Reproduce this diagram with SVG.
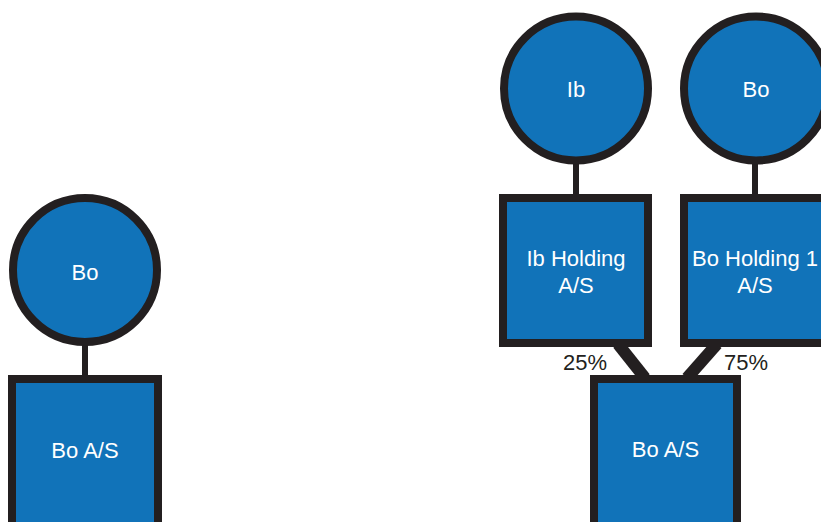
<svg xmlns="http://www.w3.org/2000/svg" width="821" height="522" viewBox="0 0 821 522">
  <style>
    .shape { fill: #1173b9; stroke: #231f20; stroke-width: 8; }
    .link { stroke: #231f20; fill: none; }
    .thin { stroke-width: 6; }
    .thick { stroke-width: 12; }
    .label { font-family: "Liberation Sans", Arial, sans-serif; font-size: 22px; fill: #ffffff; text-anchor: middle; }
    .pct { font-family: "Liberation Sans", Arial, sans-serif; font-size: 22px; fill: #231f20; text-anchor: middle; }
  </style>

  <!-- connectors -->
  <g id="connectors">
    <line class="link thin" x1="85" y1="340" x2="85" y2="380"/>
    <line class="link thin" x1="576" y1="158" x2="576" y2="200"/>
    <line class="link thin" x1="755" y1="158" x2="755" y2="200"/>
    <line class="link thick" x1="618" y1="344" x2="645" y2="378"/>
    <line class="link thick" x1="717" y1="344" x2="687" y2="378"/>
    <text class="pct" x="585" y="370">25%</text>
    <text class="pct" x="746" y="370">75%</text>
  </g>

  <!-- left structure -->
  <g id="owner-bo-left">
    <circle class="shape" cx="85" cy="270" r="72"/>
    <text class="label" x="85" y="280">Bo</text>
  </g>
  <g id="company-bo-as-left">
    <rect class="shape" x="12" y="379" width="146" height="200"/>
    <text class="label" x="85" y="458">Bo A/S</text>
  </g>

  <!-- right structure -->
  <g id="owner-ib">
    <circle class="shape" cx="576" cy="88.5" r="72"/>
    <text class="label" x="576" y="97">Ib</text>
  </g>
  <g id="owner-bo-right">
    <circle class="shape" cx="756" cy="88.5" r="72"/>
    <text class="label" x="756" y="97">Bo</text>
  </g>
  <g id="ib-holding">
    <rect class="shape" x="503" y="198" width="145" height="145"/>
    <text class="label" x="576" y="266">Ib Holding</text>
    <text class="label" x="576" y="293">A/S</text>
  </g>
  <g id="bo-holding-1">
    <rect class="shape" x="684" y="198" width="145" height="145"/>
    <text class="label" x="755" y="266">Bo Holding 1</text>
    <text class="label" x="755" y="293">A/S</text>
  </g>
  <g id="company-bo-as-right">
    <rect class="shape" x="594" y="379" width="143" height="200"/>
    <text class="label" x="665.5" y="457">Bo A/S</text>
  </g>
</svg>
